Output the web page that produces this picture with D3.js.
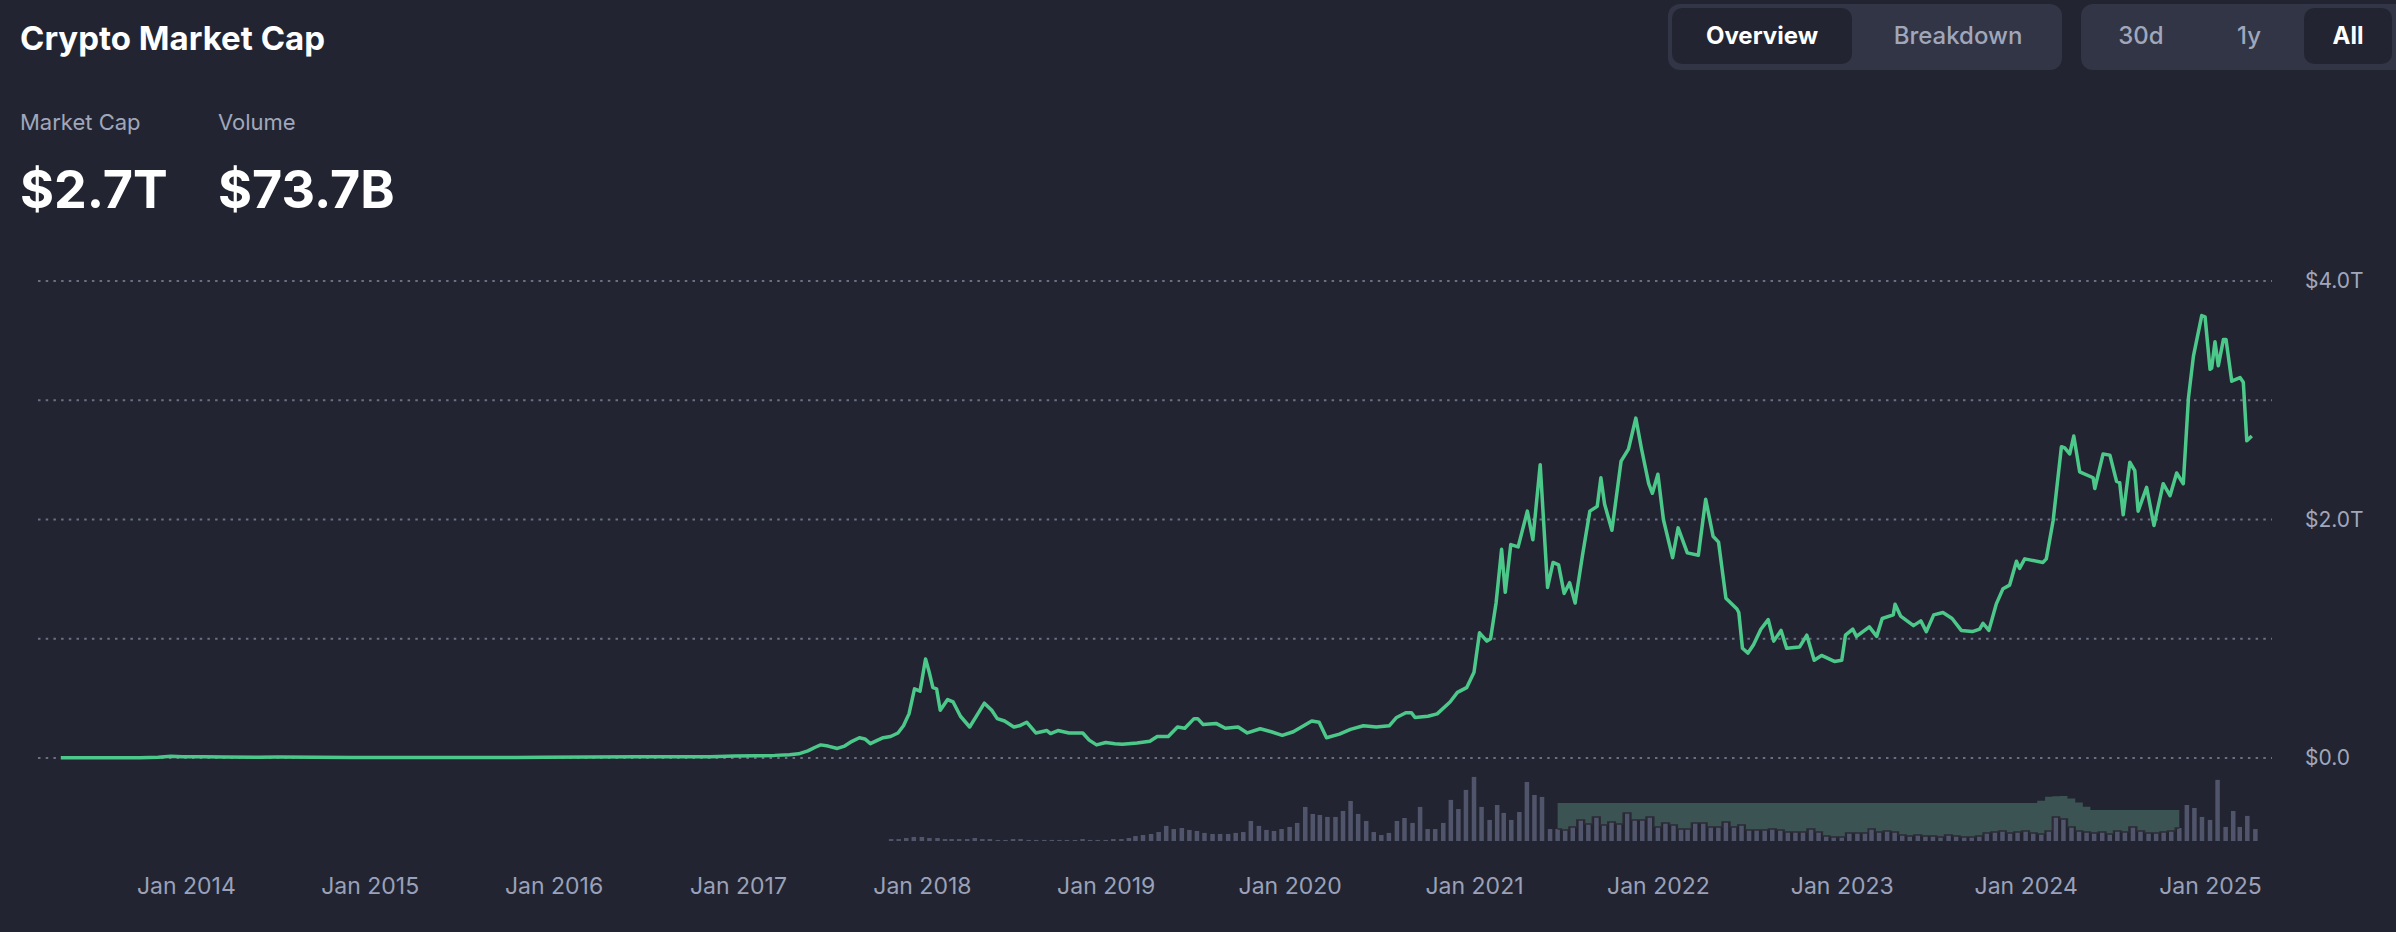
<!DOCTYPE html>
<html>
<head>
<meta charset="utf-8">
<title>Crypto Market Cap</title>
<script src="https://cdn.jsdelivr.net/npm/d3@7"></script>
<style>
  html, body { margin: 0; padding: 0; background: #222531; }
  svg text { font-family: Inter, "Noto Sans", sans-serif; }
</style>
</head>
<body>
<div id="chart"></div>
<script>
var svgWidth = 2396;
var svgHeight = 932;

// plot area (pixels)
var plotLeft = 38;
var plotRight = 2272;

// ---- data ----

// headline numbers
var headLabels = ["Market Cap", "Volume"];
var headValues = ["$2.7T", "$73.7B"];

// toggles
var tabs = ["Overview", "Breakdown"];
var ranges = ["30d", "1y", "All"];
var activeTab = "Overview";
var activeRange = "All";

// y axis (trillions USD) - grid every 1T, label every 2T
var capGrid = [0, 1, 2, 3, 4];
var capLabels = [0, 2, 4];

// x axis tick years
var tickYears = [2014, 2015, 2016, 2017, 2018, 2019, 2020, 2021, 2022, 2023, 2024, 2025];

// total market cap: [decimal year, trillions USD]
var marketCap = [
  [2013.32, 0.0015], [2013.45, 0.0012], [2013.6, 0.0011], [2013.75, 0.0015], [2013.85, 0.006],
  [2013.92, 0.014], [2013.98, 0.011], [2014.1, 0.011], [2014.2, 0.008], [2014.4, 0.007],
  [2014.5, 0.008], [2014.7, 0.006], [2014.9, 0.0045], [2015.05, 0.0035], [2015.3, 0.0035],
  [2015.5, 0.004], [2015.8, 0.005], [2015.95, 0.0065], [2016.2, 0.0075], [2016.45, 0.011],
  [2016.6, 0.01], [2016.85, 0.011], [2016.98, 0.016], [2017.1, 0.018], [2017.2, 0.022],
  [2017.28, 0.028], [2017.33, 0.035], [2017.38, 0.06], [2017.42, 0.09], [2017.45, 0.11],
  [2017.49, 0.1], [2017.54, 0.08], [2017.58, 0.1], [2017.62, 0.14], [2017.66, 0.17],
  [2017.69, 0.16], [2017.72, 0.12], [2017.76, 0.15], [2017.79, 0.17], [2017.83, 0.18],
  [2017.87, 0.21], [2017.9, 0.27], [2017.93, 0.37], [2017.96, 0.58], [2017.99, 0.56],
  [2018.02, 0.83], [2018.04, 0.72], [2018.06, 0.59], [2018.08, 0.58], [2018.1, 0.40],
  [2018.14, 0.49], [2018.17, 0.47], [2018.21, 0.35], [2018.26, 0.26], [2018.3, 0.36],
  [2018.34, 0.46], [2018.38, 0.40], [2018.41, 0.33], [2018.45, 0.31], [2018.5, 0.26],
  [2018.53, 0.27], [2018.57, 0.30], [2018.62, 0.21], [2018.68, 0.23], [2018.7, 0.205],
  [2018.74, 0.23], [2018.8, 0.21], [2018.875, 0.21], [2018.91, 0.15], [2018.95, 0.11],
  [2019.0, 0.13], [2019.05, 0.12], [2019.09, 0.115], [2019.17, 0.125], [2019.24, 0.14],
  [2019.28, 0.18], [2019.34, 0.18], [2019.39, 0.26], [2019.43, 0.25], [2019.48, 0.33],
  [2019.5, 0.33], [2019.53, 0.28], [2019.6, 0.29], [2019.65, 0.25], [2019.72, 0.26],
  [2019.77, 0.21], [2019.84, 0.245], [2019.9, 0.22], [2019.96, 0.19], [2020.02, 0.22],
  [2020.12, 0.31], [2020.16, 0.30], [2020.2, 0.17], [2020.27, 0.2], [2020.33, 0.24],
  [2020.4, 0.27], [2020.47, 0.26], [2020.54, 0.27], [2020.58, 0.34], [2020.63, 0.38],
  [2020.66, 0.38], [2020.68, 0.34], [2020.75, 0.35], [2020.8, 0.37], [2020.87, 0.47],
  [2020.91, 0.55], [2020.96, 0.59], [2021.0, 0.72], [2021.03, 1.05], [2021.07, 0.98],
  [2021.09, 1.0], [2021.12, 1.3], [2021.15, 1.75], [2021.17, 1.39], [2021.2, 1.79],
  [2021.24, 1.77], [2021.29, 2.07], [2021.32, 1.83], [2021.36, 2.46], [2021.4, 1.43],
  [2021.43, 1.64], [2021.46, 1.62], [2021.49, 1.38], [2021.52, 1.47], [2021.55, 1.30],
  [2021.59, 1.7], [2021.63, 2.07], [2021.67, 2.11], [2021.69, 2.35], [2021.71, 2.13],
  [2021.75, 1.91], [2021.8, 2.49], [2021.84, 2.59], [2021.88, 2.85], [2021.91, 2.6],
  [2021.95, 2.3], [2021.97, 2.22], [2022.0, 2.38], [2022.03, 2.0], [2022.08, 1.68],
  [2022.11, 1.93], [2022.16, 1.72], [2022.22, 1.70], [2022.26, 2.17], [2022.3, 1.86],
  [2022.33, 1.81], [2022.37, 1.34], [2022.43, 1.25], [2022.44, 1.22], [2022.46, 0.92],
  [2022.49, 0.88], [2022.52, 0.95], [2022.56, 1.08], [2022.6, 1.16], [2022.63, 0.98],
  [2022.67, 1.07], [2022.7, 0.92], [2022.77, 0.93], [2022.81, 1.03], [2022.85, 0.82],
  [2022.89, 0.86], [2022.96, 0.81], [2023.0, 0.82], [2023.02, 1.03], [2023.06, 1.08],
  [2023.08, 1.02], [2023.15, 1.10], [2023.19, 1.02], [2023.22, 1.17], [2023.28, 1.20],
  [2023.29, 1.29], [2023.32, 1.19], [2023.39, 1.11], [2023.43, 1.15], [2023.46, 1.06],
  [2023.5, 1.20], [2023.55, 1.22], [2023.6, 1.17], [2023.65, 1.07], [2023.71, 1.06],
  [2023.75, 1.08], [2023.768, 1.13], [2023.8, 1.07], [2023.84, 1.29], [2023.877, 1.42],
  [2023.913, 1.45], [2023.95, 1.65], [2023.967, 1.59], [2023.995, 1.67], [2024.094, 1.64],
  [2024.112, 1.67], [2024.149, 1.99], [2024.194, 2.61], [2024.212, 2.60], [2024.239, 2.55],
  [2024.261, 2.70], [2024.293, 2.40], [2024.366, 2.35], [2024.375, 2.26], [2024.42, 2.55],
  [2024.457, 2.54], [2024.493, 2.32], [2024.51, 2.31], [2024.529, 2.04], [2024.565, 2.48],
  [2024.592, 2.41], [2024.61, 2.07], [2024.656, 2.27], [2024.696, 1.95], [2024.746, 2.30],
  [2024.783, 2.20], [2024.819, 2.39], [2024.855, 2.30], [2024.883, 3.02], [2024.91, 3.37],
  [2024.955, 3.71], [2024.973, 3.70], [2025.0, 3.26], [2025.009, 3.27], [2025.027, 3.49],
  [2025.045, 3.29], [2025.073, 3.51], [2025.087, 3.51], [2025.118, 3.16], [2025.163, 3.19],
  [2025.181, 3.15], [2025.2, 2.66], [2025.227, 2.70]
];

// volume, billions USD, two bars a month (1st and 16th) starting Nov 2017
var volumeStart = [2017, 10];
var volume = [
  15, 15, 23, 31,
  31, 23, 23, 15, 15, 15, 15, 23, 15, 15, 8, 8, 15, 15, 8, 8, 8, 8, 8, 8, 8, 15, 8, 8,
  8, 15, 15, 23, 38, 46, 54, 69, 116, 92, 100, 85, 77, 62, 54, 54, 54, 62, 69, 154, 116, 85, 77, 92,
  108, 139, 262, 208, 200, 185, 185, 231, 308, 208, 154, 69, 46, 62, 154, 177, 139, 262, 92, 92, 139, 316, 246, 393,
  493, 262, 162, 277, 216, 162, 223, 454, 354, 339, 92, 92, 85, 108, 162, 131, 185, 123, 146, 131, 216, 162, 162, 185,
  108, 139, 123, 92, 92, 139, 139, 108, 108, 146, 108, 123, 85, 85, 85, 92, 85, 69, 69, 69, 92, 69, 38, 31,
  31, 62, 62, 62, 92, 69, 77, 69, 46, 38, 46, 38, 38, 31, 46, 38, 31, 31, 38, 62, 69, 77, 62, 69,
  77, 62, 54, 77, 185, 169, 108, 77, 69, 62, 69, 54, 77, 69, 108, 77, 62, 62, 69, 77, 100, 277, 254, 185,
  162, 470, 108, 231, 108, 193, 92
];

// the shaded band over the volume bars (ceiling in billions USD)
var bandCeil = [
  [2021.42, 293], [2024.07, 293], [2024.11, 340], [2024.22, 347],
  [2024.26, 320], [2024.36, 239], [2024.86, 239]
];

// ---- helpers ----
function yearToDate(y) {
  var yr = Math.floor(y);
  var start = new Date(yr, 0, 1);
  var end = new Date(yr + 1, 0, 1);
  return new Date(+start + (y - yr) * (end - start));
}

function volumeDate(i) {
  return new Date(volumeStart[0], volumeStart[1] + Math.floor(i / 2), i % 2 ? 16 : 1);
}

function ceilAt(date) {
  var ts = bandCeil.map(d => +yearToDate(d[0]));
  var vs = bandCeil.map(d => d[1]);
  return d3.scaleLinear().domain(ts).range(vs).clamp(true)(+date);
}

function capFormat(v) {
  return v === 0 ? "$0.0" : "$" + v.toFixed(1) + "T";
}

var svg = d3.select("#chart")
  .append("svg")
  .attr("width", svgWidth)
  .attr("height", svgHeight);

svg.append("rect")
  .attr("width", svgWidth)
  .attr("height", svgHeight)
  .attr("fill", "#222531");

// ---- header ----
svg.append("text")
  .attr("x", 20)
  .attr("y", 50)
  .attr("fill", "#ffffff")
  .attr("font-size", 33)
  .attr("font-weight", 700)
  .text("Crypto Market Cap");

var headX = [20, 218];
svg.selectAll("text.head-label")
  .data(headLabels)
  .enter()
  .append("text")
  .classed("head-label", true)
  .attr("x", (d, i) => headX[i])
  .attr("y", 130)
  .attr("fill", "#a1a7bb")
  .attr("font-size", 22)
  .text(d => d);

svg.selectAll("text.head-value")
  .data(headValues)
  .enter()
  .append("text")
  .classed("head-value", true)
  .attr("x", (d, i) => headX[i])
  .attr("y", 208)
  .attr("fill", "#ffffff")
  .attr("font-size", 52)
  .attr("font-weight", 700)
  .text(d => d);

// ---- toggle buttons ----
function buttonGroup(labels, active, gx, gw, slots) {
  var g = svg.append("g");
  g.append("rect")
    .attr("x", gx).attr("y", 4)
    .attr("width", gw).attr("height", 66)
    .attr("rx", 12)
    .attr("fill", "#323546");
  g.selectAll("rect.btn")
    .data(labels.filter(d => d === active))
    .enter()
    .append("rect")
    .classed("btn", true)
    .attr("x", d => slots[labels.indexOf(d)][0])
    .attr("y", 8)
    .attr("width", d => slots[labels.indexOf(d)][1])
    .attr("height", 56)
    .attr("rx", 10)
    .attr("fill", "#222531");
  g.selectAll("text")
    .data(labels)
    .enter()
    .append("text")
    .attr("x", (d, i) => slots[i][0] + slots[i][1] / 2)
    .attr("y", 36)
    .attr("dy", "0.35em")
    .attr("text-anchor", "middle")
    .attr("font-size", 24)
    .attr("font-weight", d => d === active ? 700 : 500)
    .attr("fill", d => d === active ? "#ffffff" : "#a1a7bb")
    .text(d => d);
}

buttonGroup(tabs, activeTab, 1668, 394, [[1672, 180], [1858, 200]]);
buttonGroup(ranges, activeRange, 2081, 330, [[2088, 106], [2196, 106], [2304, 88]]);

// ---- scales ----
var xScale = d3.scaleTime()
  .domain([yearToDate(2013.196), yearToDate(2025.337)])
  .range([plotLeft, plotRight]);

var yScale = d3.scaleLinear()
  .domain([0, 4])
  .range([758, 281]);

var volScale = d3.scaleLinear()
  .domain([0, 500])
  .range([841, 776]);

// ---- grid lines ----
svg.selectAll("line.grid")
  .data(capGrid)
  .enter()
  .append("line")
  .classed("grid", true)
  .attr("x1", plotLeft)
  .attr("x2", plotRight)
  .attr("y1", d => yScale(d))
  .attr("y2", d => yScale(d))
  .attr("stroke", "#6a6f82")
  .attr("stroke-width", 2)
  .attr("stroke-dasharray", "2.5 5.2");

svg.selectAll("text.ylab")
  .data(capLabels)
  .enter()
  .append("text")
  .classed("ylab", true)
  .attr("x", 2305)
  .attr("y", d => yScale(d))
  .attr("dy", "0.35em")
  .attr("fill", "#a1a7bb")
  .attr("font-size", 21)
  .text(d => capFormat(d));

// ---- volume bars ----
var volData = volume.map((v, i) => ({ date: volumeDate(i), value: v }));
var barW = 4.5;

svg.append("g")
  .selectAll("rect")
  .data(volData)
  .enter()
  .append("rect")
  .attr("x", d => xScale(d.date) - barW / 2)
  .attr("y", d => volScale(d.value))
  .attr("width", barW)
  .attr("height", d => volScale(0) - volScale(d.value))
  .attr("fill", "#51556b");

// shaded band sitting on top of the bars
var bandStart = yearToDate(bandCeil[0][0]);
var bandEnd = yearToDate(bandCeil[bandCeil.length - 1][0]);
var bandData = volData.filter(d => d.date >= bandStart && d.date <= bandEnd);

var bandArea = d3.area()
  .x(d => xScale(d.date))
  .y0(d => volScale(d.value))
  .y1(d => volScale(ceilAt(d.date)))
  .curve(d3.curveStep);

svg.append("path")
  .datum(bandData)
  .attr("d", bandArea)
  .attr("fill", "#3b5352");

svg.append("path")
  .datum(bandData)
  .attr("d", bandArea.lineY0())
  .attr("fill", "none")
  .attr("stroke", "#2c2b36")
  .attr("stroke-width", 1.5);

// ---- market cap line ----
var capLine = d3.line()
  .x(d => xScale(yearToDate(d[0])))
  .y(d => yScale(d[1]));

svg.append("path")
  .datum(marketCap)
  .attr("d", capLine)
  .attr("fill", "none")
  .attr("stroke", "#4cc98a")
  .attr("stroke-width", 3.5)
  .attr("stroke-linejoin", "round");

// ---- x axis ----
var bottomAxis = d3.axisBottom(xScale)
  .tickValues(tickYears.map(y => new Date(y, 0, 1)))
  .tickFormat(d3.timeFormat("Jan %Y"))
  .tickSize(0)
  .tickPadding(0);

var xAxis = svg.append("g")
  .attr("transform", "translate(0, 886)")
  .call(bottomAxis);

xAxis.select(".domain").remove();
xAxis.selectAll("text")
  .attr("dy", "0.35em")
  .attr("fill", "#9aa1b8")
  .attr("font-size", 23)
  .attr("font-family", "Inter, 'Noto Sans', sans-serif");
</script>
</body>
</html>
